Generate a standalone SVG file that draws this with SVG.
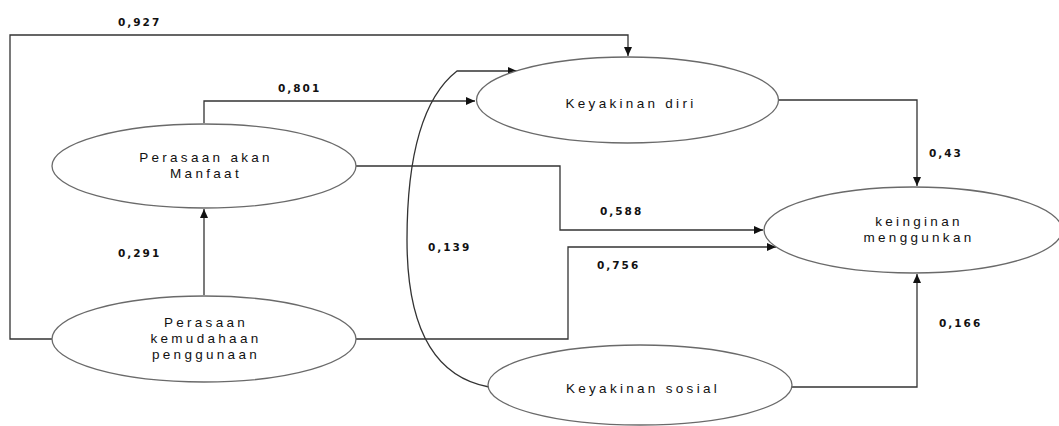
<svg xmlns="http://www.w3.org/2000/svg" width="1059" height="426" viewBox="0 0 1059 426">
<style>
.node ellipse{fill:#fff;stroke:#6a6a6a;stroke-width:1.3}
.node text{font-family:"Liberation Sans",Arial,sans-serif;font-size:13.5px;fill:#111;text-anchor:middle;letter-spacing:3.3px}
.conn path{fill:none;stroke:#333;stroke-width:1.3}
.lbl{font-family:"DejaVu Sans",sans-serif;font-weight:bold;font-size:10.5px;fill:#111;letter-spacing:2px}
</style>
<defs>
<marker id="arr" markerUnits="userSpaceOnUse" markerWidth="10" markerHeight="8" refX="9" refY="4" orient="auto">
<path d="M0,0 L9,4 L0,8 z" fill="#111"/>
</marker>
</defs>
<rect width="1059" height="426" fill="#fff"/>
<g id="connectors" class="conn">
<path d="M52,339 H10 V35 H628 V56" marker-end="url(#arr)"/>
<path d="M204,123 V101 H475" marker-end="url(#arr)"/>
<path d="M489,387 Q407,372 407,240 Q407,110 457,71 H517" marker-end="url(#arr)"/>
<path d="M356,166 H560 V230 H763" marker-end="url(#arr)"/>
<path d="M356,339 H568 V247 H776" marker-end="url(#arr)"/>
<path d="M779,100 H917 V186" marker-end="url(#arr)"/>
<path d="M792,387 H917 V274" marker-end="url(#arr)"/>
<path d="M204,295 V209" marker-end="url(#arr)"/>
</g>
<g id="n-manfaat" class="node">
<ellipse cx="204" cy="166" rx="152" ry="42"/>
<text x="206" y="162">Perasaan akan</text>
<text x="206" y="178">Manfaat</text>
</g>
<g id="n-kemudahaan" class="node">
<ellipse cx="204" cy="339" rx="152" ry="43"/>
<text x="206" y="327">Perasaan</text>
<text x="206" y="343">kemudahaan</text>
<text x="206" y="359">penggunaan</text>
</g>
<g id="n-diri" class="node">
<ellipse cx="627.5" cy="100" rx="151" ry="43"/>
<text x="631" y="108">Keyakinan diri</text>
</g>
<g id="n-keinginan" class="node">
<ellipse cx="913" cy="230" rx="149" ry="43"/>
<text x="919" y="226">keinginan</text>
<text x="919" y="242">menggunkan</text>
</g>
<g id="n-sosial" class="node">
<ellipse cx="640" cy="385" rx="152" ry="40"/>
<text x="643" y="393">Keyakinan sosial</text>
</g>
<g id="labels">
<text class="lbl" x="118" y="26">0,927</text>
<text class="lbl" x="278" y="92">0,801</text>
<text class="lbl" x="118" y="257">0,291</text>
<text class="lbl" x="428" y="251">0,139</text>
<text class="lbl" x="600" y="215">0,588</text>
<text class="lbl" x="597" y="269">0,756</text>
<text class="lbl" x="929" y="157">0,43</text>
<text class="lbl" x="939" y="327">0,166</text>
</g>
</svg>
